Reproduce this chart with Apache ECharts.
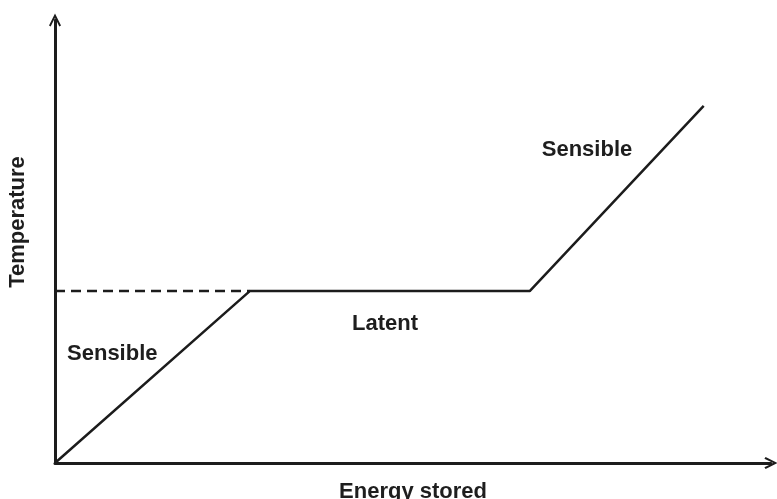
<!DOCTYPE html>
<html>
<head>
<meta charset="utf-8">
<script src="https://cdn.jsdelivr.net/npm/echarts@6/dist/echarts.min.js"></script>
<style>
  html, body { margin: 0; padding: 0; background: #fff; }
  #chart { width: 777px; height: 499px; }
</style>
</head>
<body>
<div id="chart"></div>
<script>
// curve: sensible heating, latent plateau, sensible heating again
var curvePoints = [[0, 0], [27.2, 38.8], [66.3, 38.8], [90.6, 80.6]];
var dashedPoints = [[0, 38.8], [27.2, 38.8]];
var regionNames = ['Sensible', 'Latent', 'Sensible'];
var regionSpots = [[8.0, 24.6], [46.1, 31.4], [74.3, 70.7]];

var ink = '#1c1c1c';
var chevron = 'path://M0,10 L5,0 L10,10 L8.6,11 L5,3.6 L1.4,11 Z';
var txt = { fontFamily: 'Liberation Sans', fontWeight: 'bold', fontSize: 22 };

var chart = echarts.init(document.getElementById('chart'));

var labelData = regionNames.map(function (n, i) {
    return { name: n, value: regionSpots[i] };
});

chart.setOption({
    animation: false,
    grid: { left: 55, right: 6, top: 20, bottom: 36, containLabel: false, outerBoundsMode: 'none' },
    xAxis: {
        type: 'value', min: 0, max: 100,
        name: 'Energy stored', nameLocation: 'middle', nameGap: 18,
        nameTextStyle: Object.assign({ color: '#1e1e1e' }, txt),
        axisLine: { lineStyle: { color: ink, width: 3 }, symbol: ['none', chevron], symbolSize: [12, 14] },
        axisTick: { show: false }, axisLabel: { show: false }, splitLine: { show: false }
    },
    yAxis: {
        type: 'value', min: 0, max: 100,
        axisLine: { show: true, lineStyle: { color: ink, width: 3 }, symbol: ['none', chevron], symbolSize: [12, 14] },
        axisTick: { show: false }, axisLabel: { show: false }, splitLine: { show: false }
    },
    graphic: [{
        type: 'text', x: 18, y: 222, rotation: Math.PI / 2,
        style: Object.assign({
            text: 'Temperature', align: 'center', verticalAlign: 'middle', fill: '#1e1e1e'
        }, txt)
    }],
    series: [{
        type: 'line', data: curvePoints, symbol: 'none',
        lineStyle: { color: ink, width: 2.5 }
    }, {
        type: 'line', data: dashedPoints, symbol: 'none',
        lineStyle: { color: ink, width: 2.5, type: [10, 6] }
    }, {
        type: 'scatter', data: labelData, symbolSize: 0,
        itemStyle: { opacity: 1 },
        label: Object.assign({
            show: true, position: 'inside', formatter: '{b}', color: '#1e1e1e'
        }, txt)
    }]
});
</script>
</body>
</html>
